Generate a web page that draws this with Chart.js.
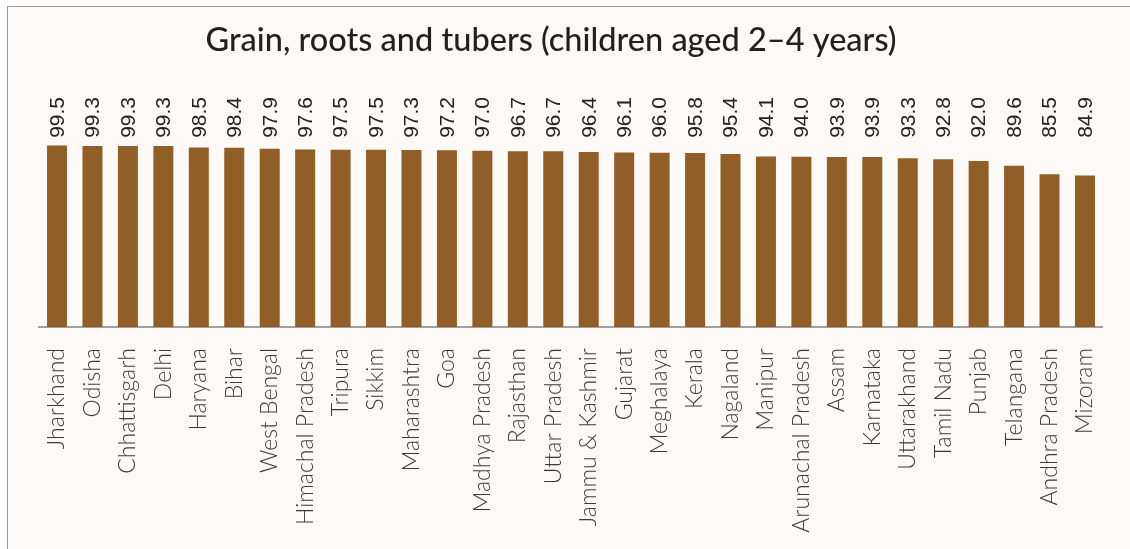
<!DOCTYPE html>
<html>
<head>
<meta charset="utf-8">
<script src="https://cdn.jsdelivr.net/npm/chart.js@4"></script>
<style>
  html, body { margin: 0; padding: 0; background: #ffffff; }
  .frame {
    position: absolute; left: 7px; top: 6px; width: 1140px; height: 560px;
    background: #fdf9f6; border: 1.5px solid #9a9a9a;
  }
  #myChart { position: absolute; left: 0; top: 0; }
</style>
</head>
<body>
<div class="frame"></div>
<canvas id="myChart" width="1130" height="549"></canvas>
<script>
const chartTitle = "Grain, roots and tubers (children aged 2\u20134 years)"
const states = ["Jharkhand", "Odisha", "Chhattisgarh", "Delhi", "Haryana", "Bihar", "West Bengal",
    "Himachal Pradesh", "Tripura", "Sikkim", "Maharashtra", "Goa", "Madhya Pradesh", "Rajasthan",
    "Uttar Pradesh", "Jammu & Kashmir", "Gujarat", "Meghalaya", "Kerala", "Nagaland", "Manipur",
    "Arunachal Pradesh", "Assam", "Karnataka", "Uttarakhand", "Tamil Nadu", "Punjab", "Telangana",
    "Andhra Pradesh", "Mizoram"]
const percentages = [99.5, 99.3, 99.3, 99.3, 98.5, 98.4, 97.9, 97.6, 97.5, 97.5, 97.3, 97.2, 97.0, 96.7,
    96.7, 96.4, 96.1, 96.0, 95.8, 95.4, 94.1, 94.0, 93.9, 93.9, 93.3, 92.8, 92.0, 89.6, 85.5, 84.9]

const barColor = "#925e28"

// value labels sit in a row above the plot, rotated
const valueLabels = {
    id: "valueLabels",
    afterDatasetsDraw(chart) {
        const ctx = chart.ctx
        const meta = chart.getDatasetMeta(0)
        ctx.save()
        ctx.fillStyle = "#222222"
        ctx.font = "21px 'Liberation Sans', Arial, sans-serif"
        ctx.textAlign = "right"
        ctx.textBaseline = "middle"
        meta.data.forEach((bar, i) => {
            ctx.save()
            ctx.translate(bar.x + 1, 97)
            ctx.rotate(-Math.PI / 2)
            ctx.fillText(percentages[i].toFixed(1), 0, 0)
            ctx.restore()
        })
        ctx.restore()
    }
}

const titlePlugin = {
    id: "titlePlugin",
    afterDraw(chart) {
        const ctx = chart.ctx
        ctx.save()
        ctx.fillStyle = "#231f20"
        ctx.font = "500 32.5px Lato, 'Open Sans', sans-serif"
        ctx.textAlign = "center"
        ctx.textBaseline = "middle"
        ctx.fillText(chartTitle, 551, 41)
        ctx.restore()
    }
}

const ctx = document.getElementById("myChart").getContext("2d")
const chart = new Chart(ctx, {
    type: "bar",
    data: {
        labels: states,
        datasets: [
            {
                data: percentages,
                backgroundColor: barColor,
                barPercentage: 0.564,
                categoryPercentage: 1
            }
        ]
    },
    options: {
        responsive: false,
        animation: false,
        layout: { padding: { top: 144.5, left: 39.3, right: 27.3, bottom: 0 } },
        plugins: {
            legend: { display: false },
            tooltip: { enabled: false }
        },
        scales: {
            x: {
                grid: { display: false },
                border: { display: true, color: "#a0a0a0", width: 2 },
                ticks: {
                    color: "#3a3a3a",
                    font: { family: "Lato, 'Open Sans', sans-serif", size: 23, weight: "300" },
                    minRotation: 90,
                    maxRotation: 90,
                    autoSkip: false,
                    padding: 13
                },
                afterFit(scale) { scale.height = 222 }
            },
            y: {
                display: false,
                min: 11,
                max: 100
            }
        }
    },
    plugins: [valueLabels, titlePlugin]
}) // closes chart
</script>
</body>
</html>
